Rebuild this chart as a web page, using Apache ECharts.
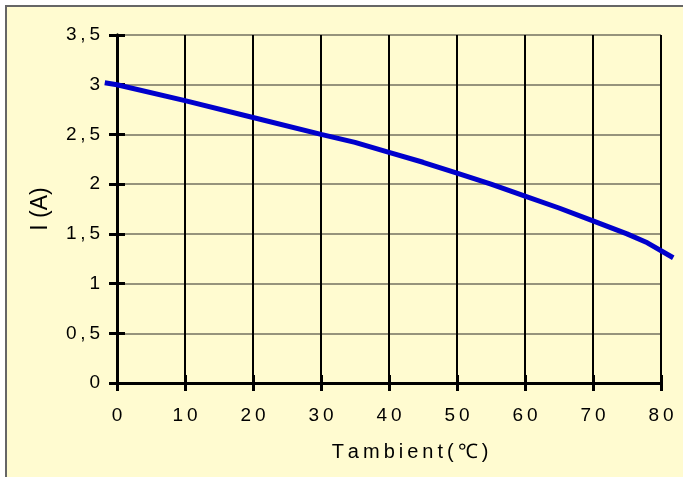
<!DOCTYPE html>
<html>
<head>
<meta charset="utf-8">
<script src="https://cdn.jsdelivr.net/npm/echarts@6/dist/echarts.min.js"></script>
<style>
html,body{margin:0;padding:0;background:#ffffff;}
#chart{width:683px;height:477px;}
</style>
</head>
<body>
<div id="chart"></div>
<script>
// Data
var tempC = [-1.8, 0, 10, 20, 30, 35, 40, 45, 50, 55, 60, 65, 70, 75, 78, 81.8];
var currentA = [3.02, 3.0, 2.84, 2.67, 2.5, 2.42, 2.32, 2.22, 2.11, 2.0, 1.88, 1.76, 1.63, 1.5, 1.41, 1.26];
var xTicks = [0, 10, 20, 30, 40, 50, 60, 70, 80];
var yTicks = [0, 0.5, 1, 1.5, 2, 2.5, 3, 3.5];
var yName = 'I (A)';
var xName = 'Tambient(℃)';

var TS = '\u2009';
function spaced(s) { return String(s).split('').join(TS); }

var points = tempC.map(function (t, i) { return [t, currentA[i]]; });

var L = 117, R = 22, T = 35, B = 94;
var W = 683 - L - R;
var xMin = xTicks[0], xMax = xTicks[xTicks.length - 1];
var pxPerUnit = W / (xMax - xMin);
var lineMin = tempC[0], lineMax = tempC[tempC.length - 1];
var gridRect = { left: L, right: R, top: T, bottom: B };
var gridWide = { left: L - (xMin - lineMin) * pxPerUnit, right: R - (lineMax - xMax) * pxPerUnit, top: T, bottom: B };
var font = 'Liberation Sans, Arial, sans-serif';

var chart = echarts.init(document.getElementById('chart'));
chart.setOption({
  backgroundColor: '#ffffff',
  animation: false,
  graphic: [
    { type: 'rect', z: -10, shape: { x: 6, y: 6, width: 720, height: 520 },
      style: { fill: '#FFFBD0', stroke: '#666666', lineWidth: 2 } },
    { type: 'text', x: 410, y: 452, z: 10,
      style: { text: spaced(xName), font: '20px ' + font, fill: '#000', textAlign: 'center', textVerticalAlign: 'middle' } }
  ],
  grid: [
    Object.assign({}, gridRect),
    Object.assign({}, gridRect),
    Object.assign({}, gridWide)
  ],
  xAxis: [
    { type: 'value', gridIndex: 0, min: xMin, max: xMax, interval: 10,
      axisLine: { show: true, onZero: true, lineStyle: { color: '#000', width: 3 } },
      axisTick: { show: true, inside: false, length: 8, lineStyle: { color: '#000', width: 3 } },
      axisLabel: { margin: 23, color: '#000', fontSize: 19, fontFamily: font,
        formatter: function (v) { return spaced(v); } },
      splitLine: { show: true, lineStyle: { color: '#000', width: 2 } } },
    { type: 'value', gridIndex: 1, min: xMin, max: xMax, interval: 10,
      axisLine: { show: true, lineStyle: { color: '#000', width: 3 } },
      axisTick: { show: true, inside: true, length: 8, lineStyle: { color: '#000', width: 3 } },
      axisLabel: { show: false }, splitLine: { show: false } },
    { type: 'value', gridIndex: 2, min: lineMin, max: lineMax, show: false }
  ],
  yAxis: [
    { type: 'value', gridIndex: 0, min: yTicks[0], max: yTicks[yTicks.length - 1], interval: 0.5,
      name: yName, nameLocation: 'middle', nameRotate: 90, nameGap: 65,
      nameTextStyle: { color: '#000', fontSize: 23, fontFamily: font },
      axisLine: { show: true, onZero: true, lineStyle: { color: '#000', width: 3 } },
      axisTick: { show: true, inside: false, length: 8, lineStyle: { color: '#000', width: 3 } },
      axisLabel: { margin: 17, color: '#000', fontSize: 19, fontFamily: font,
        formatter: function (v) { return spaced(String(v).replace('.', ',')); } },
      splitLine: { show: true, lineStyle: { color: '#737060', width: 1.5 } } },
    { type: 'value', gridIndex: 1, min: yTicks[0], max: yTicks[yTicks.length - 1], interval: 0.5,
      axisLine: { show: true, lineStyle: { color: '#000', width: 3 } },
      axisTick: { show: true, inside: true, length: 8, lineStyle: { color: '#000', width: 3 } },
      axisLabel: { show: false }, splitLine: { show: false } },
    { type: 'value', gridIndex: 2, min: yTicks[0], max: yTicks[yTicks.length - 1], show: false }
  ],
  series: [
    { type: 'line', xAxisIndex: 2, yAxisIndex: 2, data: points, clip: false,
      showSymbol: false, symbol: 'none', smooth: false, z: 5,
      lineStyle: { color: '#0000CC', width: 5 } }
  ]
});
</script>
</body>
</html>
